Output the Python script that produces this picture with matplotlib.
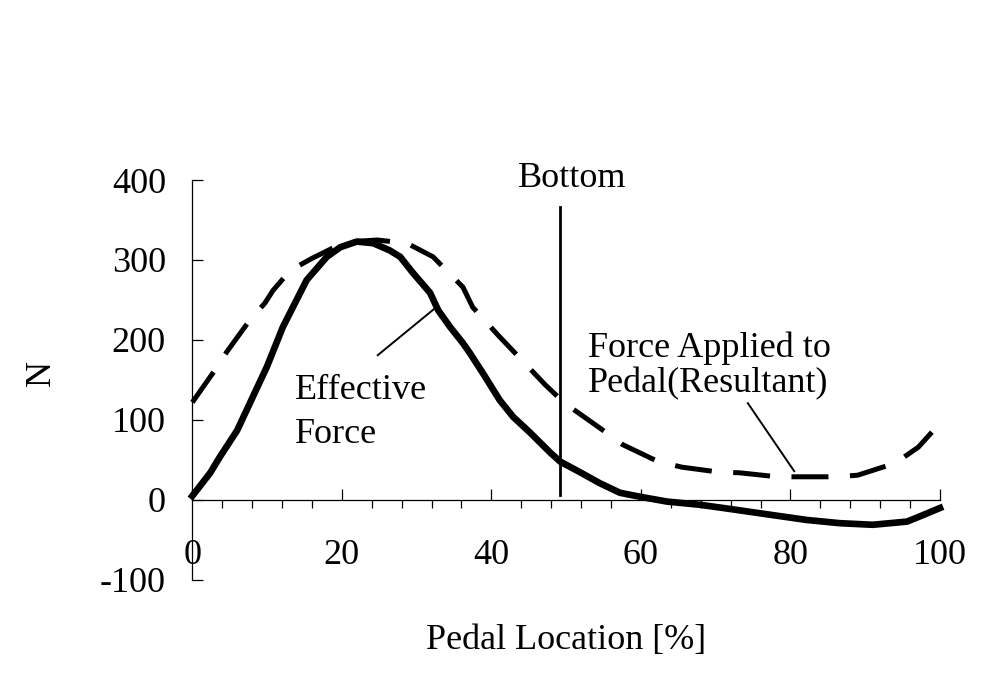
"""Effective vs resultant pedal force over the pedal cycle"""

import matplotlib.pyplot as plt
from matplotlib.ticker import MultipleLocator

plt.rcParams['font.family'] = ['Liberation Serif', 'DejaVu Serif']
plt.rcParams['axes.unicode_minus'] = False

# Effective force (solid line), N vs pedal location %
eff_x = [0, 2.4, 3.7, 6.0, 8.1, 10.0, 12.1, 15.3, 18.0, 19.8, 22.0, 24.2,
         26.4, 27.8, 29.5, 31.8, 32.9, 34.5, 36.2, 37.1, 38.9, 41.1, 42.9,
         45.2, 47.9, 49.2, 51.8, 54.5, 57.2, 59.9, 63.5, 67.9, 71.0, 77.7,
         82.2, 86.6, 91.0, 95.6, 97.7, 100]
eff_y = [5, 34, 54, 87, 129, 167, 216, 275, 304, 316, 323, 321,
         312, 304, 284, 259, 237, 216, 196, 184, 158, 125, 104,
         84, 59, 48, 35, 21, 9, 4, -2, -6, -10, -19,
         -25, -29, -31, -27, -19, -10]

# Force applied to pedal (resultant, dashed line)
res_x = [0, 3.0, 4.6, 7.7, 9.7, 10.8, 13.1, 16.0, 18.8, 21.5, 24.7, 28.7,
         32.2, 36.2, 37.5, 40.9, 47.2, 49.8, 54.5, 57.6, 62.3, 65.5, 70.3,
         73.2, 78.2, 81.3, 86.2, 89.0, 94.0, 97.1, 100]
res_y = [122, 162, 185, 225, 246, 262, 287, 302, 315, 323, 325, 321,
         304, 266, 241, 206, 144, 121, 90, 69, 48, 41, 35,
         34, 29, 29, 29, 31, 46, 66, 96]

# "Bottom" marker
bottom_x = [49.2, 49.2]
bottom_y = [6, 366]

# leader lines for the labels
eff_lead_x = [24.8, 32.5]
eff_lead_y = [181, 240]
res_lead_x = [74.3, 80.5]
res_lead_y = [121, 36]

x_ticks = [0, 20, 40, 60, 80, 100]
y_ticks = [-100, 0, 100, 200, 300, 400]
y_labels = ['-100', '0', '100', '200', '300', '400']

fig = plt.figure(figsize=(10, 6.95), dpi=100)
ax = fig.add_axes([0.1923, 0.1655, 0.7477, 0.5755])

ax.plot(res_x, res_y, color='black', lw=3.6, dashes=(7.4, 4.3),
        solid_capstyle='butt', clip_on=False)
ax.plot(eff_x, eff_y, color='black', lw=4.8, clip_on=False)
ax.plot(bottom_x, bottom_y, color='black', lw=2.0)
ax.plot(eff_lead_x, eff_lead_y, color='black', lw=1.4)
ax.plot(res_lead_x, res_lead_y, color='black', lw=1.4)

fs = 26
ax.text(50.8, 402, 'Bottom', ha='center', va='center', fontsize=fs)
ax.text(13.7, 126, 'Effective', ha='left', va='baseline', fontsize=fs)
ax.text(13.7, 71, 'Force', ha='left', va='baseline', fontsize=fs)
ax.text(52.9, 179, 'Force Applied to', ha='left', va='baseline', fontsize=fs)
ax.text(52.9, 135, 'Pedal(Resultant)', ha='left', va='baseline', fontsize=fs)

ax.set_xlim(0, 100)
ax.set_ylim(-100, 400)
for side in ['top', 'right']:
    ax.spines[side].set_visible(False)
ax.spines['bottom'].set_position(('data', 0))
ax.spines['left'].set_linewidth(0.9)
ax.spines['bottom'].set_linewidth(0.9)

ax.set_xticks(x_ticks)
ax.xaxis.set_minor_locator(MultipleLocator(4))
ax.set_yticks(y_ticks)
ax.set_yticklabels(y_labels)
ax.tick_params(axis='x', which='major', direction='in', length=8, width=0.9,
               pad=28, labelsize=fs)
ax.tick_params(axis='x', which='minor', direction='out', length=6, width=0.9)
ax.tick_params(axis='y', which='major', direction='in', length=8, width=0.9,
               pad=19, labelsize=fs)

ax.set_xlabel('Pedal Location [%]', fontsize=fs)
ax.xaxis.set_label_coords(0.5, -0.11)
ax.set_ylabel('N', fontsize=fs)
ax.yaxis.set_label_coords(-0.18, 0.5175)

fig.savefig('out.png', dpi=100)
